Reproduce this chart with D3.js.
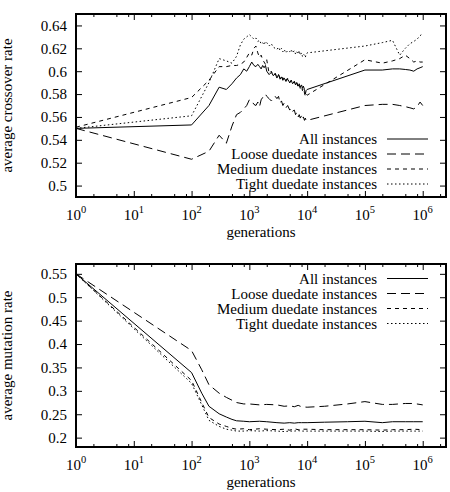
<!DOCTYPE html>
<html>
<head>
<meta charset="utf-8">
<script src="https://cdn.jsdelivr.net/npm/d3@7"></script>
<style>
body{margin:0;background:#fff}
svg{display:block}
text{font-family:"Liberation Serif","Times New Roman",serif;font-size:15px;fill:#000}
</style>
</head>
<body>
<svg id="chart" width="450" height="492"></svg>
<script>
// generations sampled in the crossover run
const gens_top=[1,100,200,300,400,500,600,700,800,900,
    1000,1100,1200,1300,1400,1500,1600,1700,1800,1900,
    2000,2200,2400,2600,2800,3000,3200,3400,3600,3800,
    4000,4300,4600,5000,5300,5600,6000,6300,6600,7000,
    7300,7600,8000,8300,8600,9000,9300,9600,10000,
    1e5,2e5,3e5,4e5,5e5,6e5,7e5,8e5,9e5,1e6];

const all_top=[0.550,0.553,0.570,0.586,0.584,0.589,0.594,0.597,0.602,0.600,
    0.604,0.608,0.605,0.604,0.606,0.604,0.602,0.605,0.603,0.605,
    0.600,0.597,0.599,0.596,0.598,0.594,0.597,0.593,0.595,0.592,
    0.594,0.591,0.593,0.590,0.592,0.589,0.591,0.588,0.590,0.587,
    0.589,0.586,0.588,0.585,0.587,0.584,0.580,0.583,0.584,
    0.601,0.601,0.602,0.602,0.6015,0.601,0.600,0.602,0.603,0.604];
const loose_top=[0.550,0.523,0.530,0.544,0.537,0.552,0.562,0.564,0.567,0.570,
    0.575,0.574,0.571,0.570,0.573,0.569,0.575,0.577,0.579,0.580,
    0.578,0.576,0.574,0.576,0.578,0.576,0.578,0.572,0.574,0.570,
    0.572,0.568,0.570,0.566,0.568,0.565,0.566,0.562,0.564,0.560,
    0.562,0.559,0.561,0.558,0.560,0.557,0.559,0.557,0.557,
    0.570,0.571,0.571,0.570,0.569,0.568,0.567,0.569,0.573,0.570];
const medium_top=[0.551,0.577,0.592,0.604,0.604,0.605,0.605,0.606,0.608,0.612,
    0.616,0.614,0.620,0.622,0.616,0.612,0.614,0.610,0.608,0.606,
    0.610,0.598,0.600,0.596,0.598,0.595,0.597,0.594,0.596,0.593,
    0.595,0.592,0.594,0.590,0.592,0.589,0.591,0.588,0.590,0.586,
    0.588,0.585,0.587,0.583,0.585,0.581,0.578,0.580,0.579,
    0.610,0.607,0.609,0.611,0.614,0.611,0.608,0.609,0.608,0.608];
const tight_top=[0.550,0.561,0.590,0.611,0.609,0.607,0.613,0.623,0.628,0.630,
    0.632,0.630,0.628,0.629,0.626,0.627,0.624,0.625,0.623,0.626,
    0.625,0.622,0.624,0.621,0.620,0.619,0.621,0.618,0.620,0.617,
    0.619,0.616,0.618,0.617,0.619,0.616,0.618,0.615,0.617,0.615,
    0.618,0.614,0.616,0.613,0.615,0.614,0.612,0.615,0.616,
    0.622,0.625,0.627,0.614,0.620,0.624,0.626,0.628,0.631,0.633];

// generations sampled in the mutation run
const gens_bot=[1,100,150,200,300,400,500,600,800,1000,1500,2000,3000,4000,5000,
    6000,7000,8000,10000,20000,50000,1e5,2e5,3e5,5e5,7e5,1e6];

const all_bot=[0.550,0.339,0.295,0.267,0.251,0.244,0.239,0.236,0.235,0.234,0.235,0.234,0.232,0.231,0.232,
    0.231,0.232,0.232,0.232,0.233,0.234,0.235,0.232,0.234,0.234,0.234,0.234];
const loose_bot=[0.550,0.386,0.345,0.313,0.295,0.286,0.280,0.275,0.272,0.272,0.270,0.271,0.270,0.267,0.268,
    0.266,0.269,0.266,0.265,0.267,0.272,0.277,0.271,0.271,0.273,0.273,0.270];
const medium_bot=[0.550,0.322,0.275,0.243,0.229,0.224,0.220,0.218,0.219,0.217,0.219,0.218,0.217,0.218,0.216,
    0.219,0.217,0.218,0.218,0.217,0.217,0.217,0.216,0.217,0.217,0.218,0.217];
const tight_bot=[0.550,0.316,0.270,0.237,0.224,0.218,0.216,0.214,0.214,0.215,0.214,0.215,0.214,0.213,0.214,
    0.214,0.215,0.214,0.214,0.214,0.214,0.214,0.213,0.214,0.214,0.214,0.214];

const legend_labels=['All instances','Loose duedate instances','Medium duedate instances','Tight duedate instances'];
const x_majors=[1,10,100,1e3,1e4,1e5,1e6];
const x_exps=[0,1,2,3,4,5,6];
const y_ticks_top=[0.5,0.52,0.54,0.56,0.58,0.6,0.62,0.64];
const y_ticks_bot=[0.2,0.25,0.3,0.35,0.4,0.45,0.5,0.55];

const dashes=['none','9,5','4,4','1.5,2.5'];

const svg=d3.select('#chart');

const x_minors=[];
for(let e=0;e<=6;e++){
    [2,5,8].forEach(m=>{
        let v=m*Math.pow(10,e);
        if(v<2.5e6) x_minors.push(v);
    })
}

const panels=[
    {
        top:14, bot:197,
        ydom:[0.49,0.65],
        yticks:y_ticks_top,
        ylabel:'average crossover rate',
        gens:gens_top,
        series:[all_top,loose_top,medium_top,tight_top],
        legend_y:139
    },
    {
        top:264, bot:447,
        ydom:[0.18,0.571],
        yticks:y_ticks_bot,
        ylabel:'average mutation rate',
        gens:gens_bot,
        series:[all_bot,loose_bot,medium_bot,tight_bot],
        legend_y:278.5
    }
]

panels.forEach(draw_panel);

function draw_panel(p){
    let left=76, right=446;
    let x=d3.scaleLog().domain([1,2.53e6]).range([left,right]);
    let y=d3.scaleLinear().domain(p.ydom).range([p.bot,p.top]);

    let g=svg.append('g');

    // ticks, all pointing inward
    g.append('g').attr('transform',`translate(0,${p.bot})`)
        .call(d3.axisBottom(x).tickValues(x_majors).tickSize(-6).tickFormat(''));
    g.append('g').attr('transform',`translate(0,${p.bot})`)
        .call(d3.axisBottom(x).tickValues(x_minors).tickSize(-3).tickFormat(''));
    g.append('g').attr('transform',`translate(0,${p.top})`)
        .call(d3.axisTop(x).tickValues(x_majors).tickSize(-6).tickFormat(''));
    g.append('g').attr('transform',`translate(0,${p.top})`)
        .call(d3.axisTop(x).tickValues(x_minors).tickSize(-3).tickFormat(''));
    g.append('g').attr('transform',`translate(${left},0)`)
        .call(d3.axisLeft(y).tickValues(p.yticks).tickSize(-6).tickPadding(9).tickFormat(d=>+d.toFixed(2)));
    g.append('g').attr('transform',`translate(${right},0)`)
        .call(d3.axisRight(y).tickValues(p.yticks).tickSize(-6).tickFormat(''));

    g.selectAll('.domain').remove();
    g.selectAll('.tick line').attr('stroke','#000').attr('stroke-width',1);
    g.selectAll('.tick text').attr('font-size',15).attr('font-family','"Liberation Serif",serif').attr('fill','#000');

    // 10^n labels
    let xl=g.append('g').selectAll('text').data(x_majors).join('text')
        .attr('x',d=>x(d)).attr('y',p.bot+23).attr('text-anchor','middle');
    xl.append('tspan').text('10');
    xl.append('tspan').attr('dy',-7).attr('font-size',10.5).text((d,i)=>x_exps[i]);

    g.append('text').attr('x',(left+right)/2).attr('y',p.bot+40)
        .attr('text-anchor','middle').text('generations');

    g.append('text')
        .attr('transform',`translate(12,${(p.top+p.bot)/2}) rotate(-90)`)
        .attr('text-anchor','middle').text(p.ylabel);

    let line=d3.line().x(d=>x(d[0])).y(d=>y(d[1]));

    g.append('g').selectAll('path').data(p.series).join('path')
        .attr('d',s=>line(s.map((v,i)=>[p.gens[i],v])))
        .attr('fill','none').attr('stroke','#000').attr('stroke-width',1)
        .attr('stroke-dasharray',(d,i)=>dashes[i]);

    // legend
    let lg=g.append('g').selectAll('g').data(legend_labels).join('g')
        .attr('transform',(d,i)=>`translate(0,${p.legend_y+i*15})`);
    lg.append('text').attr('x',377).attr('dy','0.35em').attr('text-anchor','end').text(d=>d);
    lg.append('line').attr('x1',387).attr('x2',428)
        .attr('stroke','#000').attr('stroke-width',1)
        .attr('stroke-dasharray',(d,i)=>dashes[i]);

    g.append('rect').attr('x',left).attr('y',p.top)
        .attr('width',right-left).attr('height',p.bot-p.top)
        .attr('fill','none').attr('stroke','#000').attr('stroke-width',2);
}
</script>
</body>
</html>
